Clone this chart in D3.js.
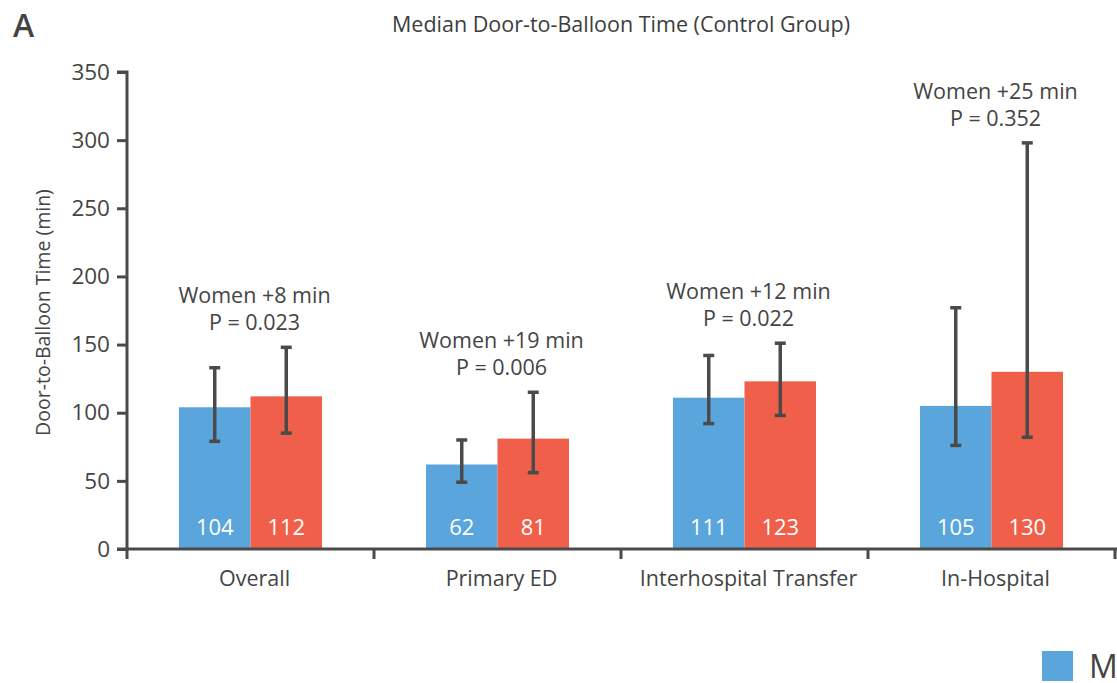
<!DOCTYPE html>
<html>
<head>
<meta charset="utf-8">
<script src="https://cdn.jsdelivr.net/npm/d3@7"></script>
<style>
  html, body { margin: 0; padding: 0; background: #fff; }
  svg { display: block; font-family: "Open Sans", "Noto Sans", sans-serif; }
</style>
</head>
<body>
<svg id="chart" width="1117" height="683"></svg>
<script>
// Median door-to-balloon time by presentation route, men vs women
const categories = ["Overall", "Primary ED", "Interhospital Transfer", "In-Hospital"];
const menMedian   = [104, 62, 111, 105];
const womenMedian = [112, 81, 123, 130];
const menLow    = [79, 49, 92, 76];
const menHigh   = [133, 80, 142, 177];
const womenLow  = [85, 56, 98, 82];
const womenHigh = [148, 115, 151, 298];
const diffLabels = ["Women +8 min", "Women +19 min", "Women +12 min", "Women +25 min"];
const pLabels = ["P = 0.023", "P = 0.006", "P = 0.022", "P = 0.352"];
const yTicks = [0, 50, 100, 150, 200, 250, 300, 350];
const seriesNames = ["Men", "Women"];

const colors = { men: "#5aa5dc", women: "#ef5f4a", ink: "#4a4a4a", text: "#444" };
const fs = 21.5;

const svg = d3.select("#chart");
const margin = { left: 127, top: 72, bottom: 134 };
const innerH = 683 - margin.top - margin.bottom;
const step = 247;

const x = d3.scaleBand()
  .domain(categories)
  .range([margin.left, margin.left + step * categories.length])
  .paddingInner(0).paddingOuter(0);

const y = d3.scaleLinear().domain([0, 350]).range([margin.top + innerH, margin.top]);

const barW = 71.5;

// Panel letter and title
svg.append("text").attr("x", 13).attr("y", 37)
  .attr("font-size", 32).attr("font-weight", 600).attr("fill", colors.text).text("A");
svg.append("text").attr("x", 621).attr("y", 32).attr("text-anchor", "middle")
  .attr("font-size", 21.5).attr("fill", "#3d3d3d")
  .text("Median Door-to-Balloon Time (Control Group)");

// Y axis
const yAxis = svg.append("g").attr("transform", `translate(${margin.left},0)`)
  .call(d3.axisLeft(y).tickValues(yTicks).tickSize(10).tickPadding(7));
yAxis.select(".domain").attr("stroke", colors.ink).attr("stroke-width", 3)
  .attr("d", `M-10,${y(350)}H0V${y(0)}`);
yAxis.selectAll(".tick line").attr("stroke", colors.ink).attr("stroke-width", 3);
yAxis.selectAll(".tick text").attr("font-size", 22.5).attr("fill", colors.text)
  .attr("font-family", "'Open Sans', sans-serif");

svg.append("text")
  .attr("transform", `translate(50,${(y(0) + y(350)) / 2 + 2}) rotate(-90)`)
  .attr("text-anchor", "middle").attr("font-size", 19.5).attr("fill", colors.text)
  .text("Door-to-Balloon Time (min)");

// Bars
const rows = categories.map((c, i) => ({
  c, i,
  men: menMedian[i], women: womenMedian[i],
  mLo: menLow[i], mHi: menHigh[i], wLo: womenLow[i], wHi: womenHigh[i]
}));

const center = d => x(d.c) + x.bandwidth() / 2;

const g = svg.append("g");
g.selectAll("rect.men").data(rows).join("rect")
  .attr("x", d => center(d) - barW).attr("width", barW)
  .attr("y", d => y(d.men)).attr("height", d => y(0) - y(d.men))
  .attr("fill", colors.men);
g.selectAll("rect.women").data(rows).join("rect")
  .attr("x", d => center(d)).attr("width", barW)
  .attr("y", d => y(d.women)).attr("height", d => y(0) - y(d.women))
  .attr("fill", colors.women);

// Value labels inside bars
g.selectAll("text.mv").data(rows).join("text")
  .attr("x", d => center(d) - barW / 2).attr("y", y(0) - 14)
  .attr("text-anchor", "middle").attr("font-size", 22).attr("fill", "#fff")
  .text(d => d.men);
g.selectAll("text.wv").data(rows).join("text")
  .attr("x", d => center(d) + barW / 2).attr("y", y(0) - 14)
  .attr("text-anchor", "middle").attr("font-size", 22).attr("fill", "#fff")
  .text(d => d.women);

// Error bars (IQR)
const capW = 11;
function errorBar(sel, cx, lo, hi) {
  sel.append("line").attr("x1", cx).attr("x2", cx).attr("y1", y(lo)).attr("y2", y(hi))
    .attr("stroke", colors.ink).attr("stroke-width", 3.5);
  [lo, hi].forEach(v => sel.append("line")
    .attr("x1", cx - capW / 2).attr("x2", cx + capW / 2).attr("y1", y(v)).attr("y2", y(v))
    .attr("stroke", colors.ink).attr("stroke-width", 3.5));
}
rows.forEach(d => {
  errorBar(g, center(d) - barW / 2, d.mLo, d.mHi);
  errorBar(g, center(d) + barW / 2, d.wLo, d.wHi);
});

// Difference annotations
rows.forEach(d => {
  const top = y(Math.max(d.mHi, d.wHi));
  g.append("text").attr("x", center(d) + 4).attr("y", top - 17)
    .attr("text-anchor", "middle").attr("font-size", fs).attr("fill", colors.text)
    .text(pLabels[d.i]);
  g.append("text").attr("x", center(d) + 4).attr("y", top - 44)
    .attr("text-anchor", "middle").attr("font-size", fs).attr("fill", colors.text)
    .text(diffLabels[d.i]);
});

// X axis
const xAxisY = y(0);
svg.append("line").attr("x1", margin.left - 10).attr("x2", 1117).attr("y1", xAxisY).attr("y2", xAxisY)
  .attr("stroke", colors.ink).attr("stroke-width", 3);
const bounds = categories.map(c => x(c)).concat([x(categories[categories.length - 1]) + step]);
svg.selectAll("line.xt").data(bounds).join("line")
  .attr("x1", d => d).attr("x2", d => d).attr("y1", xAxisY).attr("y2", xAxisY + 10)
  .attr("stroke", colors.ink).attr("stroke-width", 3);
svg.selectAll("text.cat").data(categories).join("text")
  .attr("x", c => x(c) + x.bandwidth() / 2 + 4).attr("y", xAxisY + 37)
  .attr("text-anchor", "middle").attr("font-size", fs).attr("fill", colors.text)
  .text(c => c);

// Legend
const legend = svg.append("g").attr("transform", "translate(1042,651)");
legend.append("rect").attr("width", 31).attr("height", 30).attr("fill", colors.men);
legend.append("text").attr("x", 47).attr("y", 27).attr("font-size", 32).attr("fill", colors.text)
  .text(seriesNames[0]);
legend.append("rect").attr("x", 150).attr("width", 31).attr("height", 30).attr("fill", colors.women);
legend.append("text").attr("x", 197).attr("y", 27).attr("font-size", 32).attr("fill", colors.text)
  .text(seriesNames[1]);
</script>
</body>
</html>
